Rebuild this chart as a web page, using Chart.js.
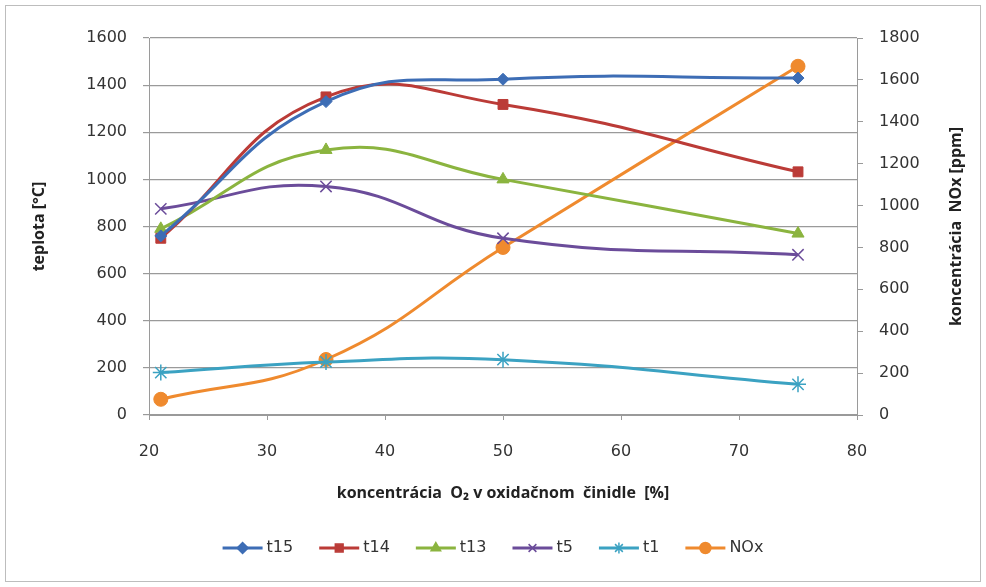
<!DOCTYPE html>
<html>
<head>
<meta charset="utf-8">
<script src="https://cdn.jsdelivr.net/npm/chart.js@4/dist/chart.umd.min.js"></script>
<style>
  html, body { margin: 0; padding: 0; background: #fff; }
  #wrap { width: 986px; height: 587px; position: relative; }
</style>
</head>
<body>
<div id="wrap"><canvas id="c"></canvas></div>
<script>
// ── data ─────────────────────────────────────────────
const O2 = [21, 35, 50, 75];
const T15 = [760, 1330, 1425, 1430];
const T14 = [750, 1350, 1318, 1032];
const T13 = [790, 1125, 1000, 770];
const T5 = [875, 970, 750, 680];
const T1 = [180, 225, 235, 130];
const NOX = [75, 265, 800, 1665];

const SERIES = [
  { label: 't15', data: T15, color: '#3d6db5', style: 'rectRot', r: 6, axis: 'y' },
  { label: 't14', data: T14, color: '#bb3b37', style: 'rect', r: 7, axis: 'y' },
  { label: 't13', data: T13, color: '#8bb43f', style: 'triangle', r: 7, axis: 'y' },
  { label: 't5', data: T5, color: '#6b4c9a', style: 'crossRot', r: 8, axis: 'y' },
  { label: 't1', data: T1, color: '#3ba2c2', style: 'star', r: 8, axis: 'y' },
  { label: 'NOx', data: NOX, color: '#ef8a2e', style: 'circle', r: 7, axis: 'y2' },
];

const FONT = "'DejaVu Sans', sans-serif";
const TITLE_FAMILY = "'Open Sans', sans-serif";
const TITLE_FONT = "bold 16px " + TITLE_FAMILY;
const TICK = { family: FONT, size: 16 };
const GRID = '#9a9a9a';

// frame round the whole picture
const framePlugin = {
  id: 'frame',
  beforeDraw(chart) {
    const ctx = chart.ctx;
    ctx.save();
    ctx.fillStyle = '#fff';
    ctx.fillRect(0, 0, chart.width, chart.height);
    ctx.strokeStyle = '#bdbdbd';
    ctx.lineWidth = 1;
    ctx.strokeRect(5.5, 5.5, chart.width - 11, chart.height - 11);
    ctx.restore();
  },
};

// right axis title, read bottom-to-top like Excel
const rightTitlePlugin = {
  id: 'rightTitle',
  afterDraw(chart) {
    const ctx = chart.ctx;
    const a = chart.chartArea;
    ctx.save();
    ctx.translate(956, (a.top + a.bottom) / 2);
    ctx.rotate(-Math.PI / 2);
    ctx.font = TITLE_FONT;
    ctx.fillStyle = '#222';
    ctx.textAlign = 'center';
    ctx.textBaseline = 'middle';
    ctx.fillText('koncentrácia  NOx [ppm]', 0, 0);
    ctx.restore();
  },
};

// Excel-like legend: line with marker, then label
const legendPlugin = {
  id: 'lineLegend',
  afterDraw(chart) {
    const ctx = chart.ctx;
    const y = 548;
    const lineW = 40, gap = 4, itemGap = 26;
    ctx.save();
    ctx.font = '16px ' + FONT;
    const ds = chart.data.datasets;
    const widths = ds.map(d => lineW + gap + ctx.measureText(d.label).width);
    const total = widths.reduce((s, w) => s + w, 0) + itemGap * (widths.length - 1);
    let x = (chart.width - total) / 2;
    ds.forEach((d, i) => {
      ctx.strokeStyle = d.borderColor;
      ctx.lineWidth = 3;
      ctx.beginPath();
      ctx.moveTo(x, y);
      ctx.lineTo(x + lineW, y);
      ctx.stroke();
      ctx.fillStyle = d.borderColor;
      ctx.lineWidth = 1.5;
      Chart.helpers.drawPoint(ctx, {
        pointStyle: d.pointStyle, radius: 5.5, rotation: 0, borderWidth: 1.5,
      }, x + lineW / 2, y);
      ctx.fillStyle = '#333';
      ctx.textBaseline = 'middle';
      ctx.textAlign = 'left';
      ctx.fillText(d.label, x + lineW + gap, y);
      x += widths[i] + itemGap;
    });
    ctx.restore();
  },
};

new Chart(document.getElementById('c'), {
  type: 'line',
  data: {
    datasets: SERIES.map(s => ({
      label: s.label,
      data: O2.map((x, i) => ({ x, y: s.data[i] })),
      yAxisID: s.axis,
      borderColor: s.color,
      backgroundColor: s.color,
      pointStyle: s.style,
      pointRadius: s.r,
      pointBorderWidth: (s.style === 'crossRot' || s.style === 'star') ? 1.5 : 1,
      pointBorderColor: s.color,
      pointBackgroundColor: s.color,
      borderWidth: 3,
      tension: 0.45,
      fill: false,
    })),
  },
  options: {
    responsive: true, maintainAspectRatio: false,
    animation: false,
    layout: { padding: { left: 26, right: 19, top: 38, bottom: 80 } },
    plugins: {
      legend: { display: false },
      tooltip: { enabled: false },
    },
    scales: {
      x: {
        type: 'linear', min: 20, max: 80,
        ticks: { stepSize: 10, font: TICK, color: '#333', padding: 22, callback: v => String(v) },
        grid: { drawOnChartArea: false, drawTicks: true, tickLength: 5, color: GRID },
        border: { color: GRID },
        title: {
          display: true, text: 'koncentrácia  O₂ v oxidačnom  činidle  [%]',
          font: { family: TITLE_FAMILY, size: 16, weight: 'bold' }, color: '#222',
        },
        afterFit: s => { s.height = 92; },
      },
      y: {
        position: 'left', min: 0, max: 1600,
        ticks: { stepSize: 200, font: TICK, color: '#333', padding: 16, callback: v => String(v) },
        grid: { color: GRID, tickLength: 6, lineWidth: 1.2 },
        border: { color: GRID },
        title: {
          display: true, text: 'teplota [°C]',
          font: { family: TITLE_FAMILY, size: 16, weight: 'bold' }, color: '#222',
        },
        afterFit: s => { s.width = 123; },
      },
      y2: {
        position: 'right', min: 0, max: 1800,
        ticks: { stepSize: 200, font: TICK, color: '#333', padding: 16, callback: v => String(v) },
        grid: { drawOnChartArea: false, tickLength: 6, color: GRID },
        border: { color: GRID },
        afterFit: s => { s.width = 110; },
      },
    },
  },
  plugins: [framePlugin, rightTitlePlugin, legendPlugin],
});
</script>
</body>
</html>
